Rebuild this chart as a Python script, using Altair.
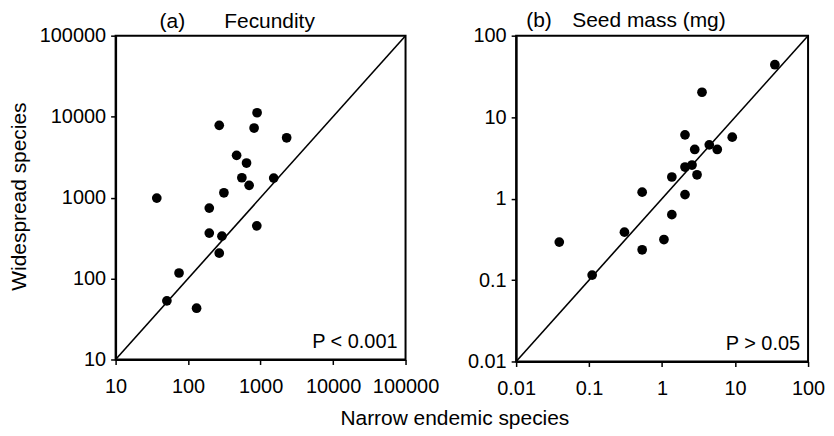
import altair as alt
import pandas as pd

# ---- data ----
fec_narrow = [895, 269, 814, 2290, 467, 640, 552, 1518, 695, 312, 37, 196, 887, 196, 293, 269, 75, 51, 131]
fec_wide = [11170, 7800, 7230, 5480, 3325, 2670, 1757, 1742, 1415, 1146, 986, 742, 448, 364, 334, 206, 117, 53, 43]

seed_narrow = [35.1, 3.52, 2.06, 9.14, 4.43, 2.80, 5.70, 2.06, 2.57, 3.01, 1.36, 0.533, 2.06, 1.36, 0.305, 0.039, 1.06, 0.533, 0.110]
seed_wide = [44, 20.2, 6.06, 5.68, 4.57, 4.01, 4.01, 2.44, 2.58, 1.96, 1.84, 1.20, 1.12, 0.635, 0.387, 0.292, 0.314, 0.235, 0.115]

fec_ticks = [10, 100, 1000, 10000, 100000]
seed_ticks = [0.01, 0.1, 1, 10, 100]

FONT = "Liberation Sans"


def text_layer(txt, x, y, align, size=21):
    return alt.Chart(pd.DataFrame({"t": [txt]})).mark_text(
        font=FONT, fontSize=size, color="black", align=align, baseline="alphabetic"
    ).encode(x=alt.value(x), y=alt.value(y), text="t:N")


def panel(xs, ys, ticks, w, h, tag, tag_x, name, name_x, title_y, ptext, xaxis_extra, yaxis_extra):
    df = pd.DataFrame({"narrow": xs, "wide": ys})
    line_df = pd.DataFrame({"narrow": [ticks[0], ticks[-1]], "wide": [ticks[0], ticks[-1]]})
    dom = [ticks[0], ticks[-1]]
    xs_ = alt.Scale(type="log", domain=dom, nice=False)
    ys_ = alt.Scale(type="log", domain=dom, nice=False)
    xax = alt.Axis(values=ticks, format="~g", labelOverlap=False, labelFlush=False, **xaxis_extra)
    yax = alt.Axis(values=ticks, format="~g", labelOverlap=False, labelFlush=False, **yaxis_extra)
    line = alt.Chart(line_df).mark_line(color="black", strokeWidth=1.6).encode(
        x=alt.X("narrow:Q", scale=xs_, axis=xax),
        y=alt.Y("wide:Q", scale=ys_, axis=yax),
    )
    pts = alt.Chart(df).mark_circle(color="black", opacity=1, size=95).encode(
        x=alt.X("narrow:Q", scale=xs_),
        y=alt.Y("wide:Q", scale=ys_),
    )
    layers = [
        line,
        pts,
        text_layer(tag, tag_x, title_y, "center"),
        text_layer(name, name_x, title_y, "center"),
        text_layer(ptext, w - 8, h - 12, "right", 20),
    ]
    return alt.layer(*layers).properties(width=w, height=h)


pa = panel(
    fec_narrow, fec_wide, fec_ticks, 291, 325,
    "(a)", 57, "Fecundity", 154.5, -7.5, "P < 0.001",
    dict(title="Narrow endemic species", titleX=340, titleY=65, titleAlign="center",
         titleBaseline="alphabetic"),
    dict(title="Widespread species", titleX=-90, titleY=161, titleAngle=270,
         titleAlign="center", titleBaseline="alphabetic"),
)
pb = panel(
    seed_narrow, seed_wide, seed_ticks, 293, 327,
    "(b)", 23, "Seed mass (mg)", 133.3, -8.5, "P > 0.05",
    dict(title=""),
    dict(title=""),
)

chart = alt.hconcat(pa, pb, spacing=111, bounds="flush").properties(
    padding={"left": 0, "top": 0, "right": 0, "bottom": 0}
).configure_view(
    stroke="black", strokeWidth=2
).configure_axis(
    grid=False,
    domainColor="black", domainWidth=2,
    tickColor="black", tickWidth=1.5, tickSize=5,
    labelFont=FONT, labelFontSize=20, labelColor="black", labelPadding=5,
    titleFont=FONT, titleFontSize=21, titleFontWeight="normal", titleColor="black",
).configure_axisBottom(
    labelPadding=12
)

chart.save("out.html", embed_options={"renderer": "svg", "actions": False})
